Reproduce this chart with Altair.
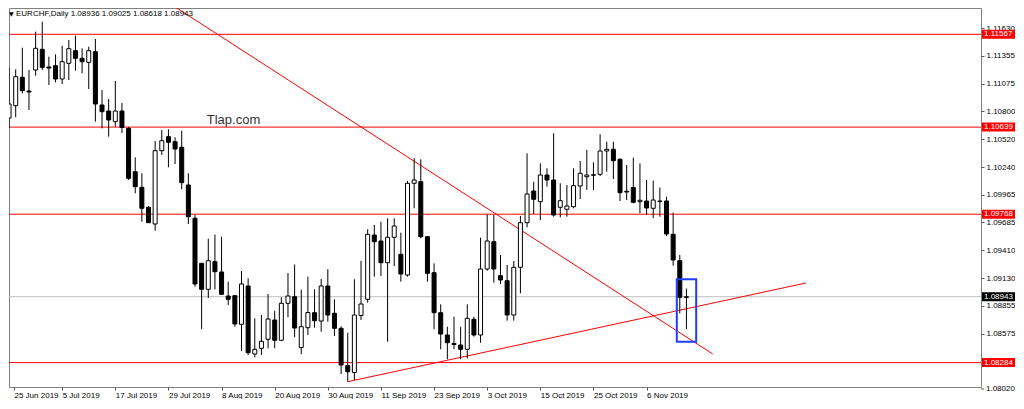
import json
import altair as alt
import pandas as pd

# ---------------- data ----------------
dates = pd.bdate_range("2019-06-25", periods=103)

opens = [
    1.1073, 1.10853, 1.11137, 1.1100, 1.1121, 1.11417, 1.1124, 1.11253, 1.1112, 1.11277,
    1.11403, 1.11327, 1.11287, 1.11393, 1.1086, 1.1080, 1.10693, 1.1080, 1.10627, 1.10193,
    1.10037, 1.09837, 1.0967, 1.10403, 1.10543, 1.10493, 1.10437, 1.1006, 1.09727, 1.09277,
    1.09017, 1.09293, 1.0919, 1.0895, 1.08953, 1.08667, 1.0905, 1.0837, 1.08427, 1.08517,
    1.0871, 1.08507, 1.08877, 1.08943, 1.08435, 1.08633, 1.08783, 1.087, 1.0905, 1.08777,
    1.08627, 1.08255, 1.08185, 1.08755, 1.08917, 1.0956, 1.095, 1.09283, 1.09537, 1.09367,
    1.0916, 1.10077, 1.10093, 1.09543, 1.09183, 1.08783, 1.0856, 1.08475, 1.0846, 1.08417,
    1.08717, 1.0856, 1.0922, 1.09493, 1.09153, 1.09103, 1.0876, 1.09237, 1.09683, 1.1000,
    1.09893, 1.1016, 1.1011, 1.09837, 1.09817, 1.09843, 1.1005, 1.10143, 1.10157, 1.10167,
    1.104, 1.10417, 1.10317, 1.09997, 1.10035, 1.09893, 1.099, 1.09827, 1.099, 1.099,
    1.09567, 1.09303, 1.08936]
highs = [
    1.1123, 1.11217, 1.11433, 1.1121, 1.11593, 1.11693, 1.11343, 1.11367, 1.11453, 1.1151,
    1.11553, 1.11427, 1.11443, 1.1152, 1.1101, 1.1092, 1.1110, 1.1088, 1.1064, 1.10337,
    1.10177, 1.0985, 1.1050, 1.1061, 1.10617, 1.10537, 1.10603, 1.10177, 1.0976, 1.0928,
    1.09523, 1.09565, 1.09543, 1.09093, 1.0896, 1.0920, 1.09127, 1.08727, 1.0876, 1.0897,
    1.08803, 1.08937, 1.0918, 1.09265, 1.09013, 1.09143, 1.09017, 1.0912, 1.09218, 1.08917,
    1.08647, 1.08583, 1.09117, 1.0930, 1.09617, 1.0966, 1.09693, 1.09727, 1.09727, 1.09583,
    1.1010, 1.10327, 1.10317, 1.0955, 1.09277, 1.08867, 1.08643, 1.08743, 1.08643, 1.08867,
    1.08743, 1.09533, 1.09767, 1.0976, 1.0936, 1.0926, 1.0930, 1.0975, 1.10377, 1.10093,
    1.10277, 1.10227, 1.10577, 1.10077, 1.1006, 1.10227, 1.1030, 1.1041, 1.10287, 1.10567,
    1.10493, 1.10493, 1.10327, 1.1026, 1.10333, 1.10277, 1.1011, 1.10105, 1.10035, 1.09943,
    1.09783, 1.0936, 1.09025]
lows = [
    1.1063, 1.10737, 1.10977, 1.1081, 1.11153, 1.1121, 1.1106, 1.11087, 1.1107, 1.1111,
    1.11203, 1.11177, 1.1102, 1.10693, 1.10627, 1.10543, 1.10643, 1.1058, 1.1011, 1.09977,
    1.09693, 1.0968, 1.09603, 1.1036, 1.10237, 1.1027, 1.10017, 1.0967, 1.09043, 1.08617,
    1.0893, 1.09017, 1.0896, 1.0886, 1.08643, 1.0840, 1.0836, 1.08337, 1.0836, 1.08427,
    1.08427, 1.08503, 1.08737, 1.08537, 1.08368, 1.0856, 1.08633, 1.08593, 1.08693, 1.0855,
    1.0817, 1.08093, 1.0811, 1.0871, 1.08883, 1.09143, 1.0915, 1.08493, 1.0925, 1.09093,
    1.09143, 1.09827, 1.09527, 1.09093, 1.08617, 1.08417, 1.08317, 1.08417, 1.08317, 1.08327,
    1.08543, 1.08483, 1.09203, 1.09083, 1.0907, 1.08703, 1.08703, 1.08977, 1.09637, 1.0977,
    1.0971, 1.10043, 1.09743, 1.09737, 1.09743, 1.09827, 1.0992, 1.1001, 1.1001, 1.1015,
    1.10193, 1.1012, 1.099, 1.0991, 1.09877, 1.09777, 1.0976, 1.0973, 1.09743, 1.0955,
    1.09253, 1.08777, 1.08618]
closes = [
    1.1087, 1.11143, 1.11003, 1.1099, 1.11427, 1.11237, 1.1123, 1.1112, 1.11293, 1.11423,
    1.11327, 1.11293, 1.11403, 1.1087, 1.10793, 1.1071, 1.1080, 1.10635, 1.10127, 1.10043,
    1.09827, 1.09683, 1.10403, 1.10503, 1.10487, 1.1042, 1.10083, 1.09743, 1.0907, 1.09017,
    1.09303, 1.09193, 1.08967, 1.08917, 1.0867, 1.0907, 1.08383, 1.08417, 1.08497, 1.0872,
    1.08507, 1.08877, 1.0895, 1.0863, 1.08643, 1.08785, 1.08703, 1.0905, 1.0876, 1.08627,
    1.0826, 1.08193, 1.0876, 1.0887, 1.09567, 1.09493, 1.09283, 1.09537, 1.0965, 1.0917,
    1.10077, 1.1011, 1.09543, 1.09177, 1.08783, 1.0857, 1.08483, 1.08465, 1.08417, 1.08727,
    1.0856, 1.0922, 1.095, 1.0922, 1.0911, 1.0876, 1.09237, 1.09683, 1.0997, 1.09917,
    1.1016, 1.1011, 1.0976, 1.09903, 1.0985, 1.10053, 1.10177, 1.1016, 1.10163, 1.104,
    1.10417, 1.10303, 1.09983, 1.0999, 1.09887, 1.09907, 1.0983, 1.0991, 1.09895, 1.0957,
    1.0931, 1.08937, 1.08943]

tick_every = 8
axis_prices = [1.11630, 1.11355, 1.11075, 1.10800, 1.10520, 1.10240, 1.09965,
               1.09685, 1.09410, 1.09130, 1.08855, 1.08575]
bottom_price = 1.08020
level_prices = [1.11567, 1.10639, 1.09768, 1.08284]
current_price = 1.08943

# trendlines (bar index, price)
down_line = {"x": 23.85, "y": 1.1189, "x2": 105.96, "y2": 1.0837}
up_line = {"x": 51.0, "y": 1.08093, "x2": 120.0, "y2": 1.0908}
box = {"x": 100.55, "x2": 103.47, "y": 1.09117, "y2": 1.08493}
watermark = {"x": 33.8, "y": 1.1071, "t": "Tlap.com"}

# ---------------- layout ----------------
W, H = 972, 379
x_dom = [0.745, 0.745 + W / 6.71]
y_dom = [1.1183 - H * 0.0001, 1.1183]

def fmt_date(d):
    return f"{d.day} {d.strftime('%b %Y')}"

tick_idx = list(range(0, len(dates), tick_every))
tick_labels = [fmt_date(dates[i]) for i in tick_idx]
tick_vals = [x_dom[0]] + tick_idx[1:]

n = len(opens)
df = pd.DataFrame({
    "idx": list(range(n)),
    "date": [d.strftime("%Y-%m-%d") for d in dates],
    "open": opens, "high": highs, "low": lows, "close": closes,
})
df["dir"] = ["up" if c >= o else "down" for o, c in zip(opens, closes)]

FONT = "Liberation Sans"
xscale = alt.Scale(domain=x_dom, nice=False, zero=False)
yscale = alt.Scale(domain=y_dom, nice=False, zero=False)

xaxis = alt.Axis(
    values=tick_vals, title=None, grid=False, domain=False,
    labelExpr=json.dumps(tick_labels) + f"[round(datum.value/{tick_every})]",
    labelAlign="left", labelFlush=False, labelOverlap=False, labelPadding=1,
    tickSize=3, tickColor="#555555", labelFont=FONT, labelFontSize=8,
    labelColor="#000000",
)
yaxis = alt.Axis(
    values=axis_prices, title=None, grid=False, domain=False, orient="right",
    format=".5f", labelFlush=False, labelOverlap=False, labelPadding=2,
    tickSize=3, tickColor="#555555", labelFont=FONT, labelFontSize=8,
    labelColor="#000000",
)

X = lambda f: alt.X(f, type="quantitative", scale=xscale, axis=xaxis)
Y = lambda f: alt.Y(f, type="quantitative", scale=yscale, axis=yaxis)

base = alt.Chart(df)

wicks = base.mark_rule(color="#000000", strokeWidth=1, clip=True).encode(
    x=X("idx"), y=Y("low"), y2="high")

bodies = base.mark_bar(size=4, stroke="#000000", strokeWidth=1, clip=True).encode(
    x=X("idx"), y=Y("open"), y2="close",
    fill=alt.Fill("dir:N", scale=alt.Scale(domain=["up", "down"], range=["#ffffff", "#000000"]), legend=None),
)

levels_df = pd.DataFrame({"price": level_prices})
levels = alt.Chart(levels_df).mark_rule(color="#ff0000", strokeWidth=1).encode(y=Y("price"))

cur_df = pd.DataFrame({"price": [current_price]})
cur = alt.Chart(cur_df).mark_rule(color="#c0c0c0", strokeWidth=1).encode(y=Y("price"))

lines_df = pd.DataFrame([down_line, up_line])
tlines = alt.Chart(lines_df).mark_rule(color="#ff0000", strokeWidth=1, clip=True).encode(
    x=X("x"), y=Y("y"), x2="x2", y2="y2")

box_df = pd.DataFrame([box])
boxmark = alt.Chart(box_df).mark_rect(fillOpacity=0, stroke="#1f3cff", strokeWidth=2).encode(
    x=X("x"), x2="x2", y=Y("y"), y2="y2")

wm_df = pd.DataFrame([watermark])
wm = alt.Chart(wm_df).mark_text(font=FONT, fontSize=13, color="#333333").encode(
    x=X("x"), y=Y("y"), text="t:N")

# bottom price tick (just below the visible range, as in the reference)
bot_df = pd.DataFrame({"price": [bottom_price], "label": [f"{bottom_price:.5f}"]})
bot_tick = alt.Chart(bot_df).mark_rule(color="#555555").encode(
    x=alt.value(W), x2=alt.value(W + 3), y=Y("price"))
bot_text = alt.Chart(bot_df).mark_text(align="left", baseline="middle", font=FONT, fontSize=8, color="#000000").encode(
    x=alt.value(W + 5), y=Y("price"), text="label:N")

# right-side price tags
half = 0.00045
tags_df = pd.DataFrame({
    "price": level_prices + [current_price],
    "bg": ["red"] * len(level_prices) + ["black"],
})
tags_df["top"] = tags_df["price"] + half
tags_df["bot"] = tags_df["price"] - half
tags_df["label"] = [f"{p:.5f}" for p in tags_df["price"]]
tag_rects = alt.Chart(tags_df).mark_rect().encode(
    x=alt.value(W + 1), x2=alt.value(W + 34), y=Y("top"), y2="bot",
    color=alt.Color("bg:N", scale=alt.Scale(domain=["red", "black"], range=["#ff0000", "#000000"]), legend=None),
)
tag_text = alt.Chart(tags_df).mark_text(align="left", baseline="middle", font=FONT, fontSize=8, color="#ffffff").encode(
    x=alt.value(W + 3), y=Y("price"), text="label:N")

title_text = f"EURCHF,Daily  {opens[-1]:.5f} {highs[-1]:.5f} {lows[-1]:.5f} {closes[-1]:.5f}"
title_df = pd.DataFrame({"t": [title_text], "tri": ["\u25bc"]})
title_mark = alt.Chart(title_df).mark_text(align="left", baseline="top", font=FONT, fontSize=8, color="#000000").encode(
    x=alt.value(7), y=alt.value(2), text="t:N")
tri_mark = alt.Chart(title_df).mark_text(align="left", baseline="top", font="DejaVu Sans", fontSize=6, color="#000000").encode(
    x=alt.value(0), y=alt.value(3), text="tri:N")

chart = alt.layer(
    cur, levels, tlines, wicks, bodies, boxmark, wm, bot_tick, bot_text,
    tag_rects, tag_text, title_mark, tri_mark
).properties(
    width=W, height=H, padding={"left": 0, "top": 0, "right": 0, "bottom": 0},
    background="#ffffff",
).configure_view(stroke="#808080", strokeWidth=1)

chart.save("out.html", embed_options={"renderer": "svg", "actions": False})
